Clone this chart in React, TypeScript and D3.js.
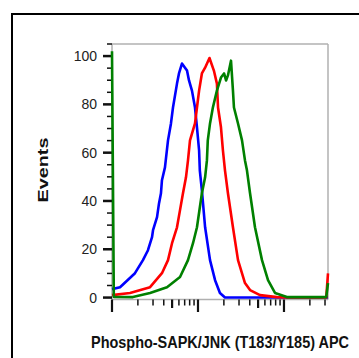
import * as d3 from 'd3';

// Histogram overlay: fluorescence (log) vs events (% of max)
const blueX = [1, 1.24, 1.85, 2.29, 2.62, 2.92, 3.0, 3.34, 3.52, 3.71, 3.81, 4.13, 4.48, 4.85, 5.12, 5.7, 6.01, 6.51, 7.06, 7.45, 7.86, 8.51, 9.23, 9.73, 10.3, 10.5, 11.1, 12.1, 13.8, 15.8, 18.0, 20.6, 325];
const blueY = [3.5, 4.3, 10.1, 15.5, 19.6, 25.0, 27.9, 33.3, 39.0, 43.2, 48.6, 53.9, 65.1, 72.1, 78.7, 88.6, 92.8, 96.9, 95.2, 94.0, 89.9, 85.7, 78.7, 70.5, 60.9, 52.7, 44.4, 29.1, 15.5, 7.2, 1.9, 0, 0];

const redX = [1, 1.62, 2.77, 3.81, 4.48, 4.99, 5.7, 6.18, 6.69, 7.25, 7.65, 8.07, 9.23, 9.73, 10.3, 11.1, 12.1, 13.6, 15.3, 16.6, 17.1, 18.5, 19.5, 20.6, 22.3, 25.5, 29.2, 35.2, 40.3, 52.6, 82.9, 108, 310, 325];
const redY = [1.0, 1.9, 4.3, 10.1, 15.5, 22.5, 29.1, 36.2, 43.2, 49.8, 56.8, 65.1, 72.1, 78.7, 85.7, 92.8, 95.2, 99.2, 94.0, 88.6, 78.7, 70.5, 60.9, 52.7, 43.2, 29.1, 15.5, 6.0, 3.1, 1.0, 0.2, 0, 0, 10];

const greenX = [1, 1.05, 1.75, 2.77, 4.36, 6.18, 7.65, 8.75, 9.73, 11.1, 12.1, 12.7, 13.0, 13.8, 14.9, 16.6, 18.5, 20.1, 21.2, 22.3, 24.2, 25.5, 26.2, 29.2, 32.5, 35.2, 37.1, 40.3, 46.0, 55.5, 65.2, 78.6, 108, 310, 325];
const greenY = [102, 0.3, 0.2, 1.9, 4.3, 8.5, 15.5, 22.5, 29.1, 43.2, 49.8, 56.8, 65.1, 72.1, 78.7, 85.7, 91.1, 92.8, 89.9, 92.0, 98.1, 85.7, 78.7, 72.1, 65.1, 56.8, 52.7, 43.2, 29.1, 15.5, 7.2, 1.9, 0.2, 0.2, 6];

const yMajor = [0, 20, 40, 60, 80, 100];
const yMinor = [5, 10, 15, 25, 30, 35, 45, 50, 55, 65, 70, 75, 85, 90, 95, 105];
const xMajor = [1, 10, 100];
const xMinor = [2, 3, 4, 5, 6, 7, 8, 9, 20, 30, 40, 50, 60, 70, 80, 90, 200, 300];

const series = [
  { name: 'blue', xs: blueX, ys: blueY, color: '#0000ff' },
  { name: 'red', xs: redX, ys: redY, color: '#ff0000' },
  { name: 'green', xs: greenX, ys: greenY, color: '#008000' },
];

export default function App() {
  const width = 359;
  const height = 358;
  const left = 112;
  const right = 328;
  const top = 44;
  const bottom = 299.5;

  const x = d3.scaleLog().domain([1, 325]).range([left, right]);
  const y = d3.scaleLinear().domain([-0.8, 105]).range([bottom, top]);

  const line = d3
    .line<[number, number]>()
    .x((d) => x(d[0]))
    .y((d) => y(d[1]));

  return (
    <svg
      width={width}
      height={height}
      style={{ position: 'absolute', left: 0, top: 0, background: '#fff' }}
    >
      {/* outer frame */}
      <rect x={12} y={14} width={400} height={400} fill='none' stroke='#000' strokeWidth={2} />

      {/* plot frame */}
      <line x1={left} x2={right} y1={top} y2={top} stroke='#b0b0b0' strokeWidth={1.5} />
      <line x1={right} x2={right} y1={top} y2={bottom} stroke='#b0b0b0' strokeWidth={1.5} />
      <line x1={left} x2={right} y1={bottom} y2={bottom} stroke='#b0b0b0' strokeWidth={1.5} />
      <line x1={left} x2={left} y1={top} y2={bottom} stroke='#b0b0b0' strokeWidth={1.5} />

      {/* y ticks */}
      {yMinor.map((t) => (
        <line key={'ym' + t} x1={107} x2={left} y1={y(t)} y2={y(t)} stroke='#111' strokeWidth={1.5} />
      ))}
      {yMajor.map((t) => (
        <g key={'yM' + t}>
          <line x1={103} x2={left} y1={y(t)} y2={y(t)} stroke='#111' strokeWidth={2.5} />
          <text
            x={97}
            y={y(t)}
            dy='0.36em'
            textAnchor='end'
            fontFamily='Liberation Sans Narrow, Arial Narrow, sans-serif'
            fontSize={14}
            fill='#222'
          >
            {t}
          </text>
        </g>
      ))}

      {/* x ticks */}
      {xMinor.map((t) => {
        const five = t === 5 || t === 50;
        return (
          <line
            key={'xm' + t}
            x1={x(t)}
            x2={x(t)}
            y1={bottom}
            y2={five ? 308 : 305.5}
            stroke='#111'
            strokeWidth={five ? 2.2 : 1.5}
          />
        );
      })}
      {xMajor.map((t) => (
        <line key={'xM' + t} x1={x(t)} x2={x(t)} y1={bottom} y2={312} stroke='#111' strokeWidth={2.2} />
      ))}

      {/* curves */}
      {series.map((s) => (
        <path
          key={s.name}
          d={line(s.xs.map((v, i) => [v, s.ys[i]] as [number, number])) ?? ''}
          fill='none'
          stroke={s.color}
          strokeWidth={2.6}
          strokeLinejoin='round'
        />
      ))}

      {/* axis titles */}
      <text
        transform='translate(48,170) rotate(-90)'
        textAnchor='middle'
        fontFamily='Liberation Sans, Arial, sans-serif'
        fontWeight='bold'
        fontSize={15.5}
        textLength={65}
        lengthAdjust='spacingAndGlyphs'
        fill='#111'
      >
        Events
      </text>
      <text
        x={220}
        y={348}
        textAnchor='middle'
        fontFamily='Liberation Sans Narrow, Arial Narrow, sans-serif'
        fontWeight='bold'
        fontSize={16.5}
        textLength={258}
        lengthAdjust='spacingAndGlyphs'
        fill='#111'
      >
        Phospho-SAPK/JNK (T183/Y185) APC
      </text>
    </svg>
  );
}
